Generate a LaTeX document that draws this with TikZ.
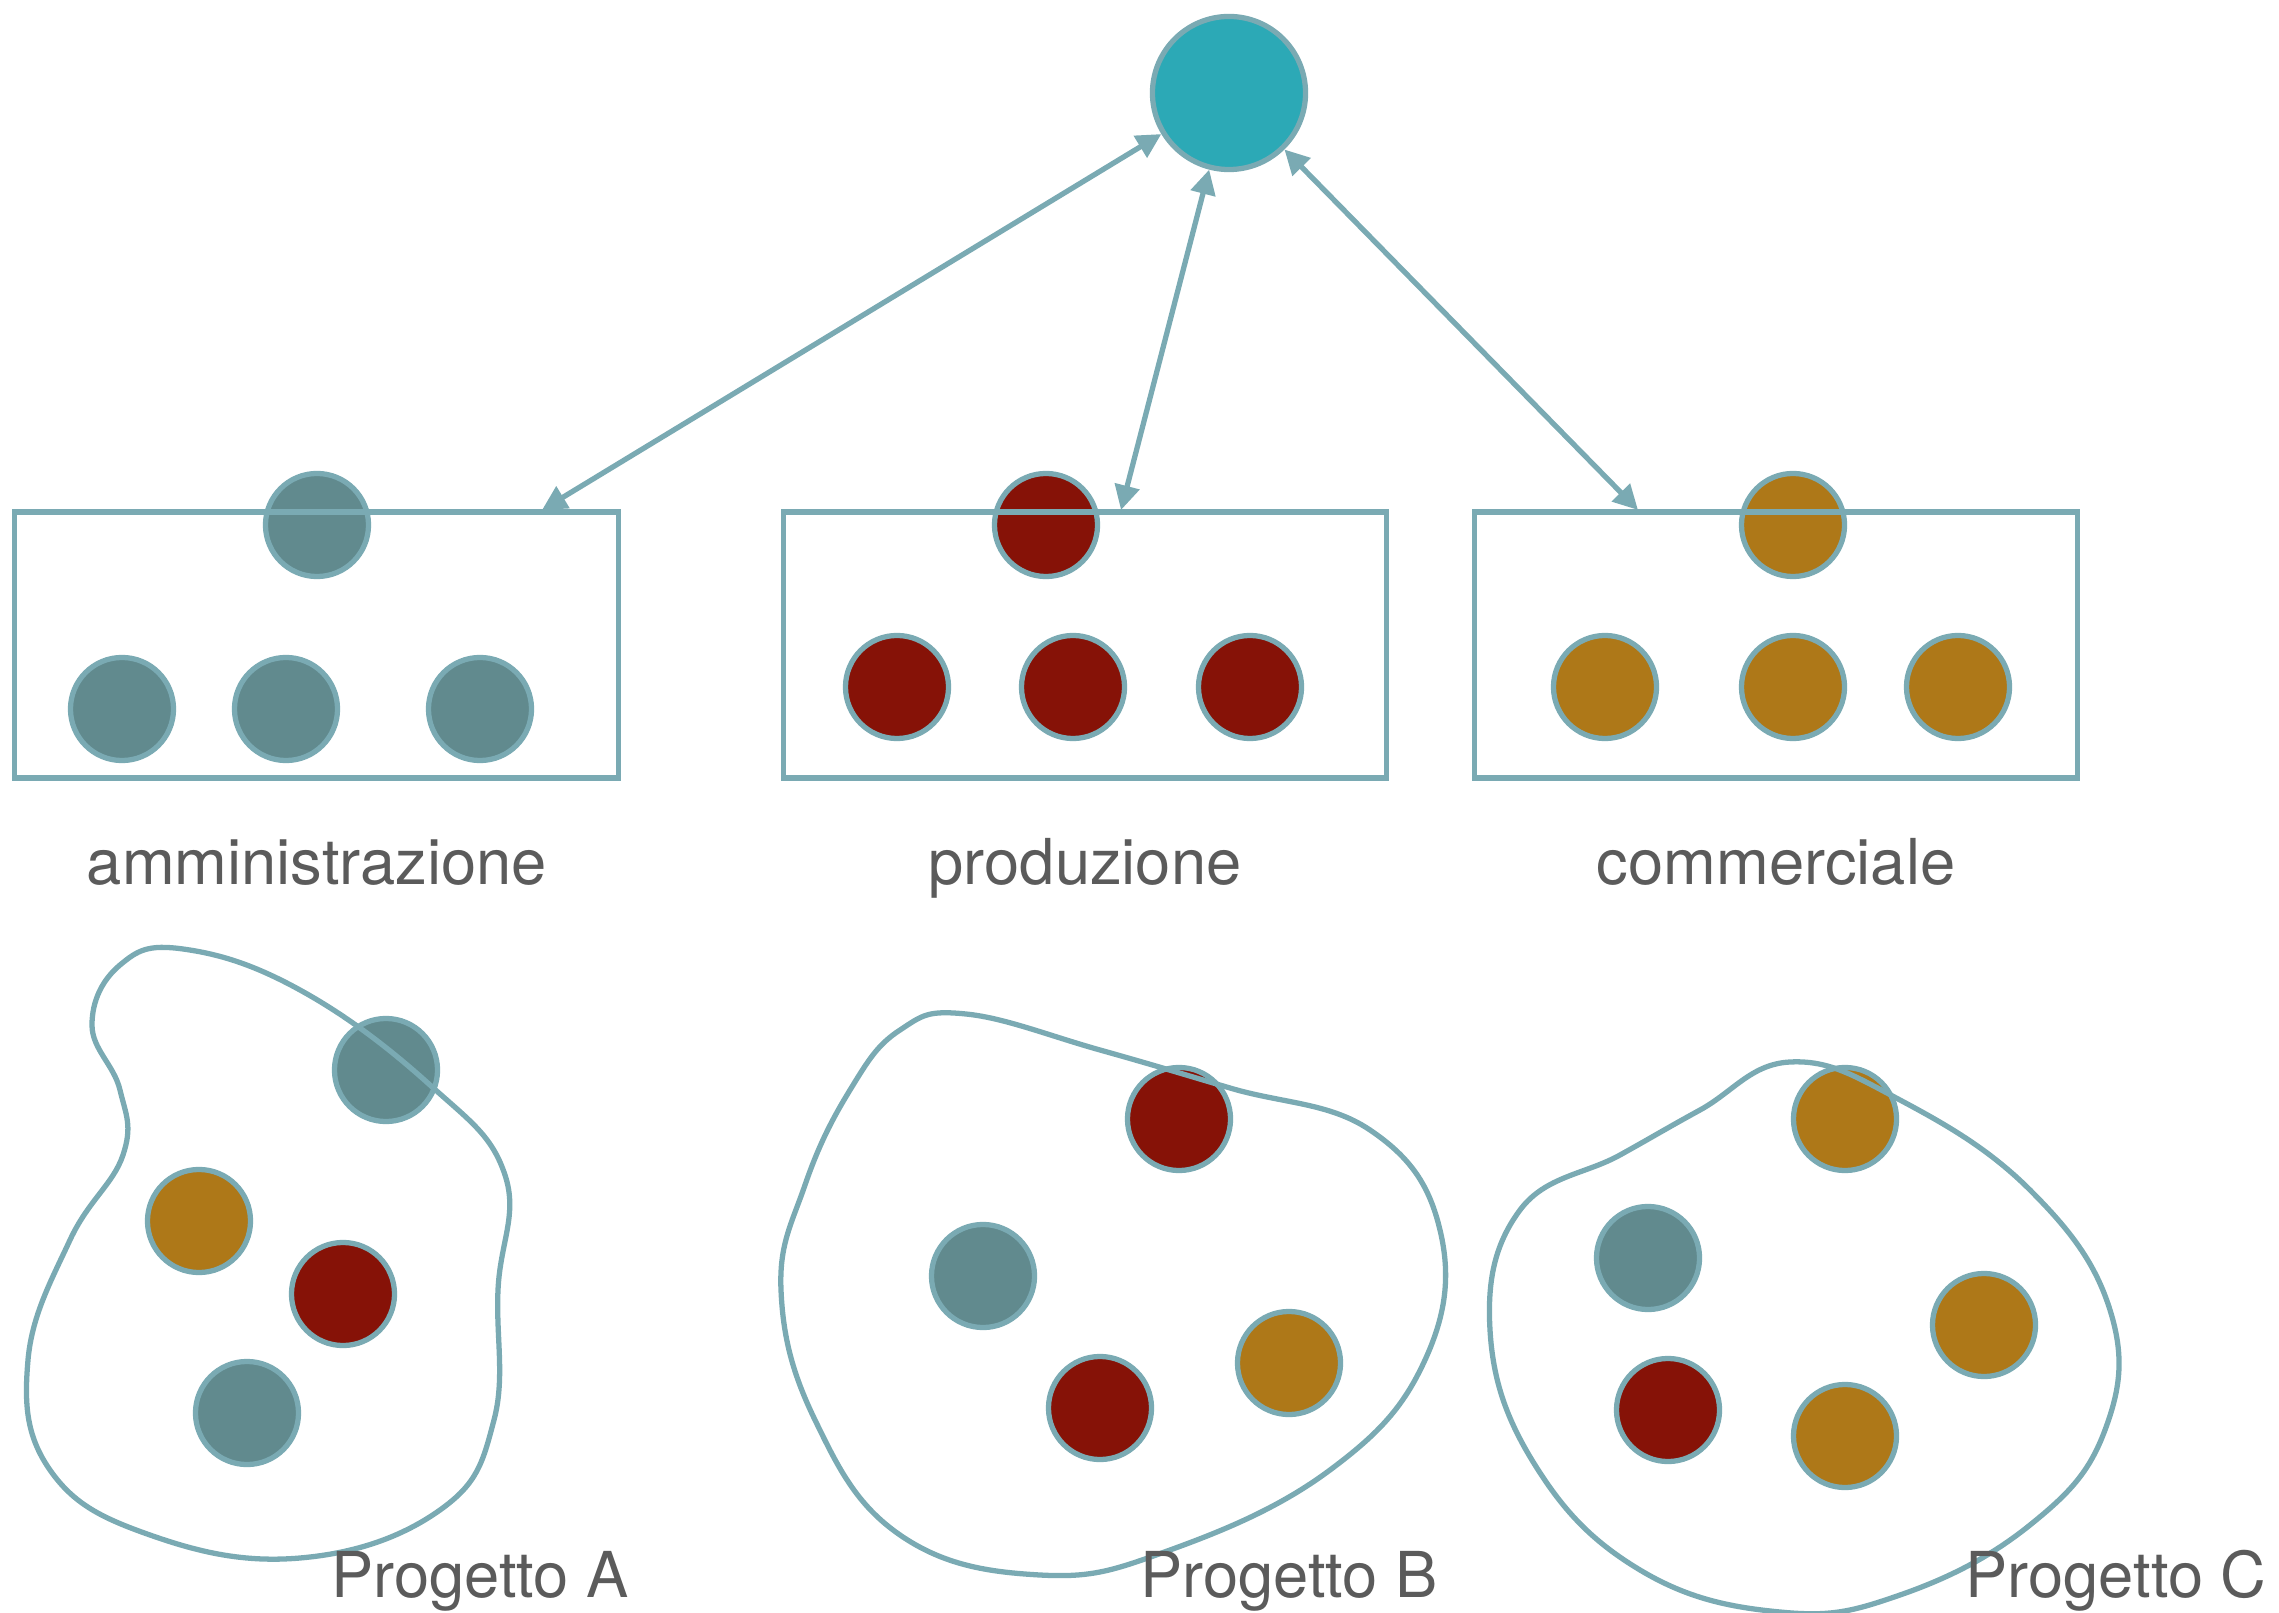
\documentclass[tikz,border=0pt]{standalone}
\usepackage{fontspec}
\setmainfont{TeX Gyre Heros}
\usetikzlibrary{arrows.meta}
\definecolor{linecol}{HTML}{7AAAB3}
\definecolor{hubcol}{HTML}{2CA9B6}
\definecolor{ammcol}{HTML}{618A8E}
\definecolor{prodcol}{HTML}{861207}
\definecolor{commcol}{HTML}{AE7818}
\definecolor{textcol}{HTML}{5B5B5B}

\begin{document}
\begin{tikzpicture}[x=0.01cm, y=-0.01cm, >={Triangle[length=7pt,width=7pt]},
    dot/.style={circle, draw=linecol, line width=1.5pt, minimum size=1.03cm, inner sep=0pt},
    dept/.style={draw=linecol, line width=1.5pt, minimum width=6.03cm, minimum height=2.66cm, inner sep=0pt},
    nametext/.style={anchor=base, text=textcol, font=\fontsize{18}{22}\selectfont},
    blob/.style={draw=linecol, line width=1.5pt}]
    \useasboundingbox (0,0) rectangle (2279,1613);

    % vertice
    \node[dot, fill=hubcol, minimum size=1.53cm] (hub) at (1229,93) {};

    % funzioni
    \node[dot, fill=ammcol] (a0) at (317,525) {};
    \node[dot, fill=ammcol] (a1) at (122,709) {};
    \node[dot, fill=ammcol] (a2) at (286,709) {};
    \node[dot, fill=ammcol] (a3) at (480,709) {};
    \node[dot, fill=prodcol] (p0) at (1046,525) {};
    \node[dot, fill=prodcol] (p1) at (897,687) {};
    \node[dot, fill=prodcol] (p2) at (1073,687) {};
    \node[dot, fill=prodcol] (p3) at (1250,687) {};
    \node[dot, fill=commcol] (c0) at (1793,525) {};
    \node[dot, fill=commcol] (c1) at (1605,687) {};
    \node[dot, fill=commcol] (c2) at (1793,687) {};
    \node[dot, fill=commcol] (c3) at (1958,687) {};

    \node[dept] (amm) at (316.5,645) {};
    \node[dept] (prod) at (1085,645) {};
    \node[dept] (comm) at (1776,645) {};

    \node[nametext] (lamm) at (317,885) {amministrazione};
    \node[nametext] (lprod) at (1085,885) {produzione};
    \node[nametext] (lcomm) at (1776,885) {commerciale};

    \coordinate (ta) at (542,510);
    \coordinate (tp) at (1121,510);
    \coordinate (tc) at (1638,510);
    \draw[<->, linecol, line width=1.5pt] (hub) -- (ta);
    \draw[<->, linecol, line width=1.5pt] (hub) -- (tp);
    \draw[<->, linecol, line width=1.5pt] (hub) -- (tc);

    % progetti
    \node[dot, fill=ammcol] (pa1) at (386,1070) {};
    \node[dot, fill=commcol] (pa2) at (199,1221) {};
    \node[dot, fill=prodcol] (pa3) at (343,1294) {};
    \node[dot, fill=ammcol] (pa4) at (247,1413) {};

    \node[dot, fill=prodcol] (pb1) at (1179,1119) {};
    \node[dot, fill=ammcol] (pb2) at (983,1276) {};
    \node[dot, fill=prodcol] (pb3) at (1100,1408) {};
    \node[dot, fill=commcol] (pb4) at (1289,1363) {};

    \node[dot, fill=commcol] (pc1) at (1845,1119) {};
    \node[dot, fill=ammcol] (pc2) at (1648,1258) {};
    \node[dot, fill=commcol] (pc3) at (1984,1325) {};
    \node[dot, fill=prodcol] (pc4) at (1668,1410) {};
    \node[dot, fill=commcol] (pc5) at (1845,1436) {};

    \draw[blob] plot[smooth cycle, tension=0.7] coordinates {
        (183,949) (300,990) (430,1085) (505,1175) (498,1290) (494,1420)
        (440,1510) (300,1558) (150,1535) (50,1470) (28,1360) (70,1240)
        (123,1155) (120,1090) (92,1025) (120,965)};
    \draw[blob] plot[smooth cycle, tension=0.7] coordinates {
        (966,1014) (1100,1050) (1230,1088) (1370,1130) (1440,1230) (1425,1360)
        (1330,1470) (1170,1550) (1040,1575) (900,1535) (815,1420) (781,1290)
        (805,1185) (850,1090) (900,1030)};
    \draw[blob] plot[smooth cycle, tension=0.7] coordinates {
        (1790,1062) (1900,1100) (2030,1190) (2110,1310) (2105,1430) (2030,1525)
        (1900,1595) (1780,1612) (1640,1570) (1535,1465) (1490,1330) (1520,1210)
        (1620,1155) (1700,1110)};

    \node[nametext] (lpa) at (480,1597) {Progetto A};
    \node[nametext] (lpb) at (1289,1597) {Progetto B};
    \node[nametext] (lpc) at (2116,1597) {Progetto C};
\end{tikzpicture}
\end{document}
